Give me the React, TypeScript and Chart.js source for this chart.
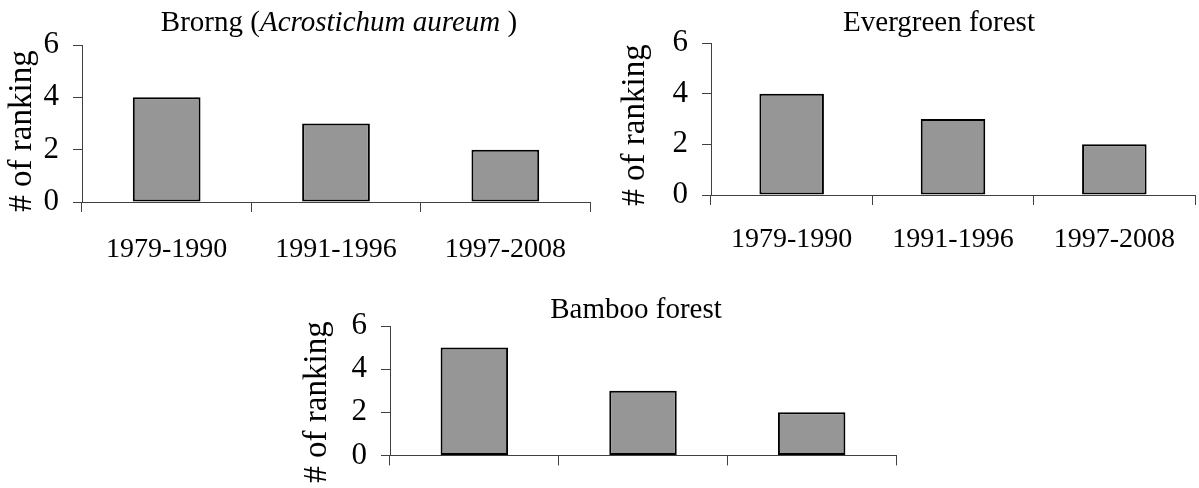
import React, { useEffect, useRef } from 'react';
import { Chart, registerables } from 'chart.js';

Chart.register(...registerables);

// ---------- data ----------
const periods = ['1979-1990', '1991-1996', '1997-2008'];
const brorngValues = [4, 3, 2];
const evergreenValues = [4, 3, 2];
const bambooValues = [5, 3, 2];
const yMin = 0;
const yMax = 6;
const yStep = 2;
const yAxisTitle = '# of ranking';
const brorngTitle = [
  { text: 'Brorng (', italic: false },
  { text: 'Acrostichum aureum', italic: true },
  { text: ' )', italic: false },
];
const evergreenTitle = [{ text: 'Evergreen forest', italic: false }];
const bambooTitle = [{ text: 'Bamboo forest', italic: false }];

// ---------- layout / style ----------
const FONT = "'Liberation Serif', 'Times New Roman', serif";
const BAR_FILL = '#969696';
const BAR_BORDER = '#000000';
const AXIS_COLOR = '#404040';
const TITLE_SIZE = 29;
const TICK_SIZE = 31;
const LABEL_SIZE = 28;
const YTITLE_SIZE = 33;

type TitlePart = { text: string; italic: boolean };
type Panel = {
  key: string;
  title: TitlePart[];
  values: number[];
  showXLabels: boolean;
  canvas: { x: number; y: number; w: number; h: number };
  plot: { l: number; t: number; r: number; b: number };
  titleCx: number;
  titleBaseline: number;
  yTitleCx: number;
  yTitleCy: number;
  xLabelPad: number;
};

const panels: Panel[] = [
  {
    key: 'brorng',
    title: brorngTitle,
    values: brorngValues,
    showXLabels: true,
    canvas: { x: 0, y: 0, w: 600, h: 275 },
    plot: { l: 82, t: 45, r: 590, b: 202 },
    titleCx: 339,
    titleBaseline: 31,
    yTitleCx: 22,
    yTitleCy: 131,
    xLabelPad: 21,
  },
  {
    key: 'evergreen',
    title: evergreenTitle,
    values: evergreenValues,
    showXLabels: true,
    canvas: { x: 600, y: 0, w: 599, h: 275 },
    plot: { l: 711, t: 43, r: 1195, b: 195 },
    titleCx: 939,
    titleBaseline: 31,
    yTitleCx: 635,
    yTitleCy: 125,
    xLabelPad: 18,
  },
  {
    key: 'bamboo',
    title: bambooTitle,
    values: bambooValues,
    showXLabels: false,
    canvas: { x: 300, y: 275, w: 600, h: 213 },
    plot: { l: 390, t: 326, r: 896, b: 469 },
    titleCx: 636,
    titleBaseline: 318,
    yTitleCx: 317,
    yTitleCy: 402,
    xLabelPad: 18,
  },
];

const textPlugin = {
  id: 'panelText',
  afterDraw(chart: any, _args: any, opts: any) {
    const ctx = chart.ctx as CanvasRenderingContext2D;
    const parts: TitlePart[] = opts.parts || [];
    ctx.save();
    ctx.fillStyle = '#000';
    ctx.textAlign = 'left';
    ctx.textBaseline = 'alphabetic';
    const fonts = parts.map((p) => `${p.italic ? 'italic ' : ''}${opts.size}px ${FONT}`);
    const widths = parts.map((p, i) => {
      ctx.font = fonts[i];
      return ctx.measureText(p.text).width;
    });
    const total = widths.reduce((a, b) => a + b, 0);
    let x = opts.cx - total / 2;
    parts.forEach((p, i) => {
      ctx.font = fonts[i];
      ctx.fillText(p.text, x, opts.baseline);
      x += widths[i];
    });
    ctx.restore();

    // rotated y axis title
    ctx.save();
    ctx.fillStyle = '#000';
    ctx.font = `${opts.yTitleSize}px ${FONT}`;
    ctx.translate(opts.yTitleCx, opts.yTitleCy);
    ctx.rotate(-Math.PI / 2);
    ctx.textAlign = 'center';
    ctx.textBaseline = 'middle';
    ctx.fillText(opts.yTitle, 0, 0);
    ctx.restore();
  },
};

function PanelChart({ panel }: { panel: Panel }) {
  const ref = useRef<HTMLCanvasElement | null>(null);

  useEffect(() => {
    if (!ref.current) return;
    const c = panel.canvas;
    const yWidth = panel.plot.l - c.x;
    const padTop = panel.plot.t - c.y;
    const padRight = c.x + c.w - panel.plot.r;
    const xHeight = c.y + c.h - panel.plot.b;

    const chart = new Chart(ref.current, {
      type: 'bar',
      data: {
        labels: periods,
        datasets: [
          {
            data: panel.values,
            backgroundColor: BAR_FILL,
            borderColor: BAR_BORDER,
            borderWidth: 2,
            borderSkipped: false,
            barPercentage: 0.4,
            categoryPercentage: 1,
          },
        ],
      },
      options: {
        responsive: false,
        animation: false,
        devicePixelRatio: 1,
        layout: { padding: { left: 0, right: padRight, top: padTop, bottom: 0 } },
        plugins: {
          legend: { display: false },
          tooltip: { enabled: false },
          title: { display: false },
          panelText: {
            parts: panel.title,
            size: TITLE_SIZE,
            cx: panel.titleCx - c.x,
            baseline: panel.titleBaseline - c.y,
            yTitle: yAxisTitle,
            yTitleSize: YTITLE_SIZE,
            yTitleCx: panel.yTitleCx - c.x,
            yTitleCy: panel.yTitleCy - c.y,
          },
        } as any,
        scales: {
          x: {
            type: 'category',
            offset: true,
            grid: {
              offset: true,
              drawOnChartArea: false,
              drawTicks: true,
              tickLength: 10,
              color: AXIS_COLOR,
              lineWidth: 1,
            },
            border: { display: true, color: AXIS_COLOR, width: 1 },
            ticks: {
              display: panel.showXLabels,
              color: '#000',
              font: { family: FONT, size: LABEL_SIZE },
              padding: panel.xLabelPad,
              maxRotation: 0,
              minRotation: 0,
              autoSkip: false,
            },
            afterFit: (scale: any) => {
              scale.height = xHeight;
            },
          },
          y: {
            min: yMin,
            max: yMax,
            grid: {
              drawOnChartArea: false,
              drawTicks: true,
              tickLength: 9,
              color: AXIS_COLOR,
              lineWidth: 1,
            },
            border: { display: true, color: AXIS_COLOR, width: 1 },
            ticks: {
              stepSize: yStep,
              color: '#000',
              font: { family: FONT, size: TICK_SIZE },
              padding: 14,
            },
            title: { display: false },
            afterFit: (scale: any) => {
              scale.width = yWidth;
            },
          },
        },
      },
      plugins: [textPlugin as any],
    });
    return () => chart.destroy();
  }, [panel]);

  return (
    <canvas
      ref={ref}
      width={panel.canvas.w}
      height={panel.canvas.h}
      style={{
        position: 'absolute',
        left: panel.canvas.x,
        top: panel.canvas.y,
        width: panel.canvas.w,
        height: panel.canvas.h,
        display: 'block',
      }}
    />
  );
}

export default function App() {
  return (
    <div
      style={{
        position: 'absolute',
        left: 0,
        top: 0,
        width: 1199,
        height: 488,
        background: '#ffffff',
        overflow: 'hidden',
      }}
    >
      {panels.map((p) => (
        <PanelChart key={p.key} panel={p} />
      ))}
    </div>
  );
}
